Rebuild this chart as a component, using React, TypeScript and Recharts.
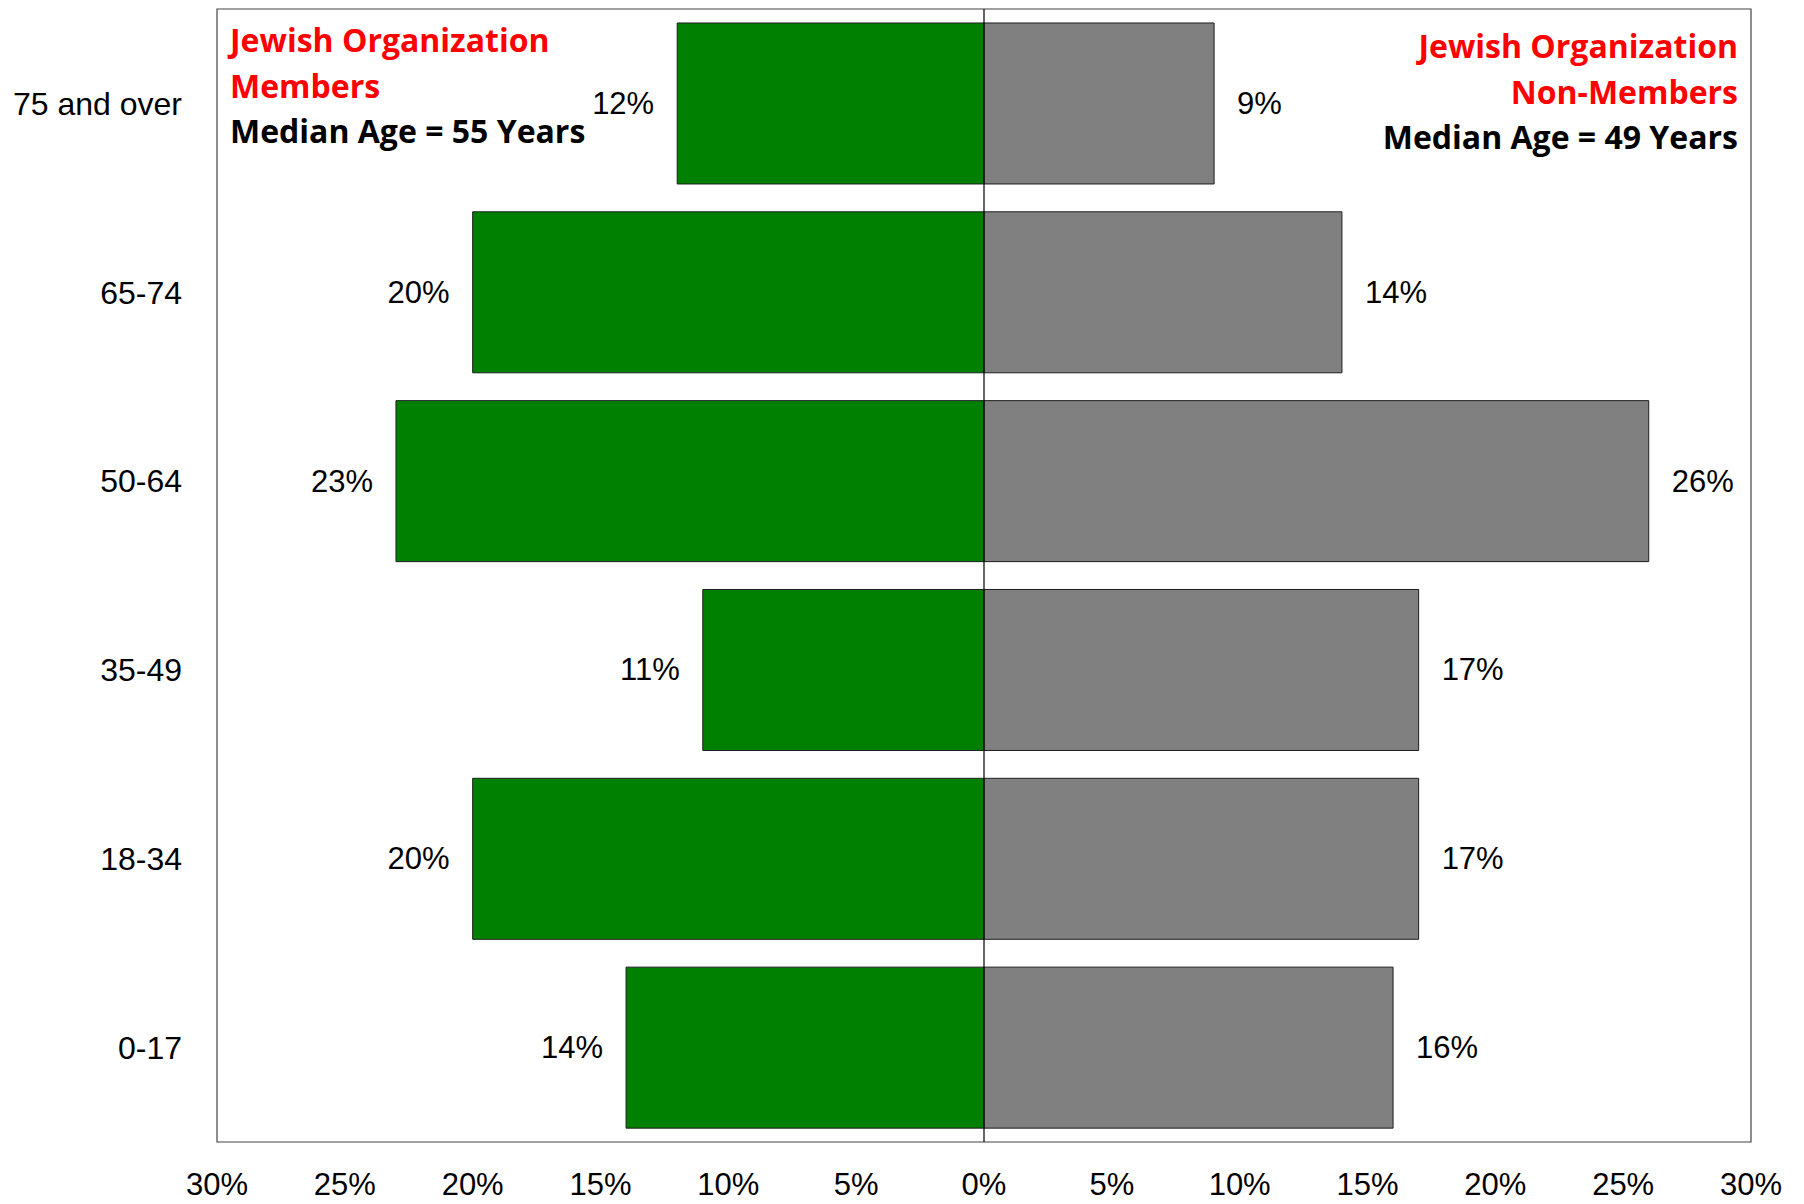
import { BarChart, Bar, XAxis, YAxis, ReferenceLine, ReferenceArea, LabelList } from "recharts";

const ageGroups = ["75 and over", "65-74", "50-64", "35-49", "18-34", "0-17"];
const members = [12, 20, 23, 11, 20, 14];
const nonMembers = [9, 14, 26, 17, 17, 16];
const xTicks = [-30, -25, -20, -15, -10, -5, 0, 5, 10, 15, 20, 25, 30];

// members go to the left, so store them as negatives
const data = ageGroups.map((age, i) => ({
  age,
  members: -members[i],
  nonMembers: nonMembers[i],
}));

const axisFont = { fontFamily: "'Liberation Sans', Arial, sans-serif", fontSize: 31, fill: "#000" };

function BarValueLabel(props: any) {
  const vb = props.viewBox ?? props;
  const { x, y, width, height } = vb;
  const value = Number(props.value);
  const left = Math.min(x, x + width);
  const right = Math.max(x, x + width);
  const neg = value < 0;
  return (
    <text
      x={neg ? left - 23 : right + 23}
      y={y + height / 2}
      textAnchor={neg ? "end" : "start"}
      dominantBaseline="central"
      style={axisFont}
    >
      {Math.abs(value)}%
    </text>
  );
}

const noteStyle: React.CSSProperties = {
  position: "absolute",
  fontFamily: "'Open Sans', sans-serif",
  fontWeight: 700,
  fontSize: 32,
  lineHeight: "45.5px",
  whiteSpace: "nowrap",
};

export default function App() {
  return (
    <div style={{ position: "absolute", left: 0, top: 0, width: 1804, height: 1204, background: "#fff" }}>
      <BarChart
        width={1804}
        height={1204}
        data={data}
        layout="vertical"
        stackOffset="sign"
        barCategoryGap="7.4%"
        margin={{ top: 9, right: 53, bottom: 11, left: 17 }}
      >
        <XAxis
          type="number"
          domain={[-30, 30]}
          ticks={xTicks}
          tickFormatter={(v: number) => `${Math.abs(v)}%`}
          tickLine={false}
          axisLine={false}
          tickMargin={25}
          height={51}
          tick={axisFont}
          allowDataOverflow
        />
        <YAxis
          type="category"
          dataKey="age"
          width={200}
          tickLine={false}
          axisLine={false}
          tickMargin={29}
          tick={{ ...axisFont, fontSize: 32 }}
        />
        <ReferenceArea x1={-30} x2={30} fill="none" stroke="#444" strokeWidth={1.2} ifOverflow="visible" />
        <Bar dataKey="members" stackId="a" fill="#008000" stroke="#1e1e1e" strokeWidth={1} isAnimationActive={false}>
          <LabelList dataKey="members" content={BarValueLabel} />
        </Bar>
        <Bar dataKey="nonMembers" stackId="a" fill="#808080" stroke="#1e1e1e" strokeWidth={1} isAnimationActive={false}>
          <LabelList dataKey="nonMembers" content={BarValueLabel} />
        </Bar>
        <ReferenceLine x={0} stroke="#000" strokeWidth={1.2} />
      </BarChart>
      <div style={{ ...noteStyle, left: 230, top: 17 }}>
        <div style={{ color: "#ff0000" }}>Jewish Organization</div>
        <div style={{ color: "#ff0000" }}>Members</div>
        <div style={{ color: "#000" }}>Median Age = 55 Years</div>
      </div>
      <div style={{ ...noteStyle, right: 66, top: 23, textAlign: "right" }}>
        <div style={{ color: "#ff0000" }}>Jewish Organization</div>
        <div style={{ color: "#ff0000" }}>Non-Members</div>
        <div style={{ color: "#000" }}>Median Age = 49 Years</div>
      </div>
    </div>
  );
}
